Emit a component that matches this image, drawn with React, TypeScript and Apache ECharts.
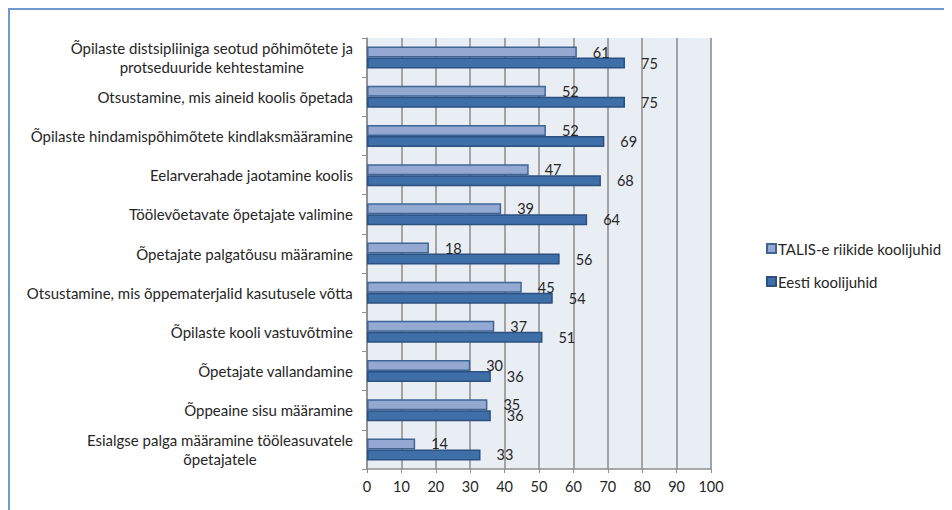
import React, { useEffect, useRef } from "react";
import * as echarts from "echarts";

const categories = [
  "Õpilaste distsipliiniga seotud põhimõtete ja\nprotseduuride kehtestamine",
  "Otsustamine, mis aineid koolis õpetada",
  "Õpilaste hindamispõhimõtete kindlaksmääramine",
  "Eelarverahade jaotamine koolis",
  "Töölevõetavate õpetajate valimine",
  "Õpetajate palgatõusu määramine",
  "Otsustamine, mis õppematerjalid kasutusele võtta",
  "Õpilaste kooli vastuvõtmine",
  "Õpetajate vallandamine",
  "Õppeaine sisu määramine",
  "Esialgse palga määramine tööleasuvatele\nõpetajatele",
];
const talisValues = [61, 52, 52, 47, 39, 18, 45, 37, 30, 35, 14];
const eestiValues = [75, 75, 69, 68, 64, 56, 54, 51, 36, 36, 33];
const seriesNames = ["TALIS-e riikide koolijuhid", "Eesti koolijuhid"];

const FONT = "Lato, 'Open Sans', sans-serif";
const TEXT = "#262626";

export default function App() {
  const ref = useRef<HTMLDivElement>(null);
  useEffect(() => {
    if (!ref.current) return;
    const chart = echarts.init(ref.current, null, { renderer: "svg" });
    const labelCfg = {
      show: true,
      position: "right",
      distance: 16,
      color: TEXT,
      fontSize: 14.5,
      fontFamily: FONT,
    };
    chart.setOption({
      animation: false,
      textStyle: { fontFamily: FONT },
      grid: {
        left: 357,
        right: 241,
        top: 28,
        bottom: 41,
        show: true,
        backgroundColor: "#e9edf4",
        borderWidth: 0,
      },
      legend: {
        orient: "vertical",
        left: 751,
        top: 226,
        itemWidth: 9,
        itemHeight: 9,
        itemGap: 18,
        icon: "rect",
        textStyle: { color: TEXT, fontSize: 15, fontFamily: FONT, padding: [0, 0, 0, -3] },
        data: seriesNames,
      },
      xAxis: {
        type: "value",
        min: 0,
        max: 100,
        interval: 10,
        axisLine: { show: true, lineStyle: { color: "#8e8e8e", width: 1.5 } },
        axisTick: { show: true, length: 4, lineStyle: { color: "#8e8e8e" } },
        axisLabel: { color: TEXT, fontSize: 14.5, fontFamily: FONT, margin: 10 },
        splitLine: { show: true, lineStyle: { color: "#a3a3a3", width: 2 } },
      },
      yAxis: {
        type: "category",
        inverse: true,
        data: categories,
        axisLine: { show: true, lineStyle: { color: "#8e8e8e", width: 1.5 } },
        axisTick: { show: true, length: 5, lineStyle: { color: "#8e8e8e" } },
        axisLabel: {
          margin: 14,
          color: TEXT,
          fontSize: 15,
          fontFamily: FONT,
          lineHeight: 19,
          formatter: (v: string) =>
            v
              .split("\n")
              .map((l) => `{c|${l}}`)
              .join("\n"),
          rich: {
            c: { align: "center", color: TEXT, fontSize: 15, fontFamily: FONT, lineHeight: 19 },
          },
        },
      },
      series: [
        {
          name: seriesNames[0],
          type: "bar",
          data: talisValues,
          barWidth: 11,
          barGap: "0%",
          itemStyle: { color: "#93a9d1", borderColor: "#3f6597", borderWidth: 1.5 },
          label: labelCfg,
        },
        {
          name: seriesNames[1],
          type: "bar",
          data: eestiValues,
          barWidth: 11,
          itemStyle: { color: "#3f6fa9", borderColor: "#2c5080", borderWidth: 1.5 },
          label: labelCfg,
        },
      ],
    });
    return () => chart.dispose();
  }, []);
  return (
    <div
      style={{
        width: 944,
        height: 502,
        boxSizing: "border-box",
        borderLeft: "2px solid #6f98cf",
        borderTop: "2px solid #6f98cf",
        background: "#fff",
      }}
    >
      <div ref={ref} style={{ width: 942, height: 500 }} />
    </div>
  );
}
